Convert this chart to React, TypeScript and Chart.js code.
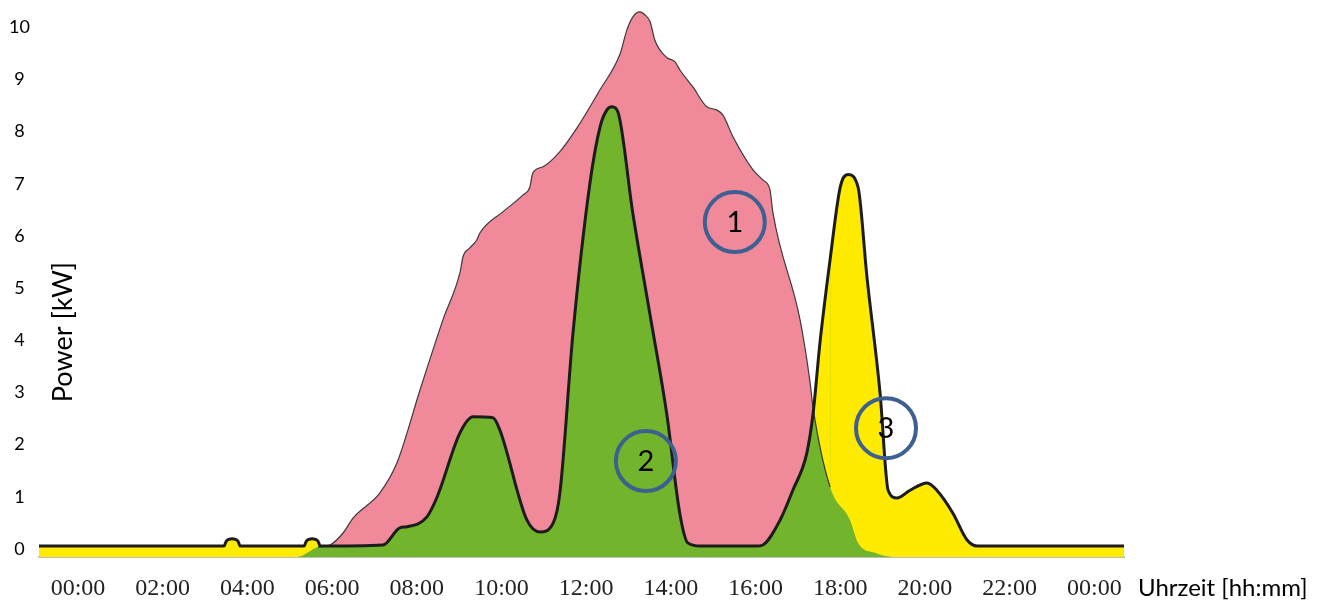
import React, { useEffect, useRef } from "react";
import { Chart, registerables } from "chart.js";

Chart.register(...registerables);

// ---- data (hours of day, kW) ----
const loadHours = [
  -0.92, 3.45, 3.5, 3.57, 3.64, 3.71, 3.78, 3.83, 5.34, 5.39, 5.46, 5.53, 5.6, 5.67, 5.72,
  7.2, 7.6, 7.77, 8.24, 8.48, 9.02, 9.33, 9.8, 9.96, 10.6, 10.91, 11.22, 11.38,
  11.69, 12.09, 12.33, 12.49, 12.61, 12.75, 13.1, 13.5, 13.9, 14.21, 14.4, 14.69,
  16.03, 16.17, 16.58, 16.88, 17.21, 17.36, 17.52, 17.76, 18.0, 18.18, 18.42,
  18.63, 18.94, 19.13, 19.34, 19.65, 20.05, 20.28, 20.66, 20.99, 21.23, 24.7,
];
const loadKW = [
  0.21, 0.21, 0.3, 0.34, 0.35, 0.34, 0.3, 0.21, 0.21, 0.3, 0.34, 0.35, 0.34, 0.3, 0.21,
  0.23, 0.56, 0.58, 0.77, 1.15, 2.38, 2.69, 2.67, 2.44, 0.71, 0.48, 0.65, 1.23,
  4.3, 7.17, 8.25, 8.57, 8.63, 8.53, 6.6, 4.68, 2.76, 0.84, 0.27, 0.21,
  0.21, 0.23, 0.71, 1.28, 1.99, 2.76, 4.1, 5.7, 7.09, 7.33, 7.09,
  5.37, 3.14, 1.28, 1.13, 1.28, 1.42, 1.28, 0.84, 0.33, 0.21, 0.21,
];

const pvHours = [
  -0.92, 5.17, 5.67, 5.95, 6.26, 6.5, 7.13, 7.53, 8.08, 8.62, 9.02, 9.09, 9.26,
  9.42, 9.49, 10.04, 10.51, 10.67, 10.74, 10.98, 11.38, 11.78, 12.33, 12.8, 12.96,
  13.1, 13.27, 13.39, 13.51, 13.62, 13.74, 13.91, 14.1, 14.21, 14.52, 14.85, 15.08,
  15.23, 15.47, 15.94, 16.17, 16.34, 16.41, 17.05, 17.28, 17.36, 17.76, 18.23,
  18.42, 18.82, 19.25, 24.7,
];
const pvKW = [
  0, 0, 0.19, 0.23, 0.46, 0.75, 1.23, 1.8, 3.21, 4.55, 5.45, 5.75, 5.93,
  6.08, 6.21, 6.62, 6.94, 7.09, 7.36, 7.48, 7.77, 8.22, 8.96, 9.64, 10.1,
  10.35, 10.45, 10.39, 10.26, 9.91, 9.72, 9.57, 9.49, 9.34, 9.01, 8.63, 8.57,
  8.47, 8.05, 7.42, 7.23, 7.04, 6.6, 4.55, 3.39, 2.85, 1.34, 0.71,
  0.27, 0.08, 0, 0,
];

const xTickHours = [0, 2, 4, 6, 8, 10, 12, 14, 16, 18, 20, 22, 24];
const xTickLabels = ["00:00", "02:00", "04:00", "06:00", "08:00", "10:00", "12:00", "14:00", "16:00", "18:00", "20:00", "22:00", "00:00"];
const yTicks = [0, 1, 2, 3, 4, 5, 6, 7, 8, 9, 10];

const markerLabels = ["1", "2", "3"];
const markerHours = [15.51, 13.41, 19.08];
const markerKW = [6.42, 1.84, 2.47];

const yAxisTitle = "Power [kW]";
const xAxisTitle = "Uhrzeit [hh:mm]";

// ---- style ----
const PINK = "#F08A9A";
const GREEN = "#72B52C";
const YELLOW = "#FFEB00";
const LINE = "#1C1C1C";
const CIRCLE = "#3E6090";
const SANS = "Lato, 'Liberation Sans', sans-serif";
const SERIF = "'Liberation Serif', 'Times New Roman', serif";

const loadPoints = loadHours.map((x, i) => ({ x, y: loadKW[i] }));
const pvPoints = pvHours.map((x, i) => ({ x, y: pvKW[i] }));

function loadAt(x: number): number {
  for (let i = 0; i < loadHours.length - 1; i++) {
    if (x >= loadHours[i] && x <= loadHours[i + 1]) {
      const t = (x - loadHours[i]) / (loadHours[i + 1] - loadHours[i] || 1);
      return loadKW[i] + t * (loadKW[i + 1] - loadKW[i]);
    }
  }
  return loadKW[loadKW.length - 1];
}

const overlayPlugin = {
  id: "overlay",
  afterDatasetsDraw(chart: any) {
    const { ctx, chartArea, scales } = chart;
    const xs = scales.x;
    const ys = scales.y;
    ctx.save();
    // numbered circles
    markerLabels.forEach((lab, i) => {
      const cx = xs.getPixelForValue(markerHours[i]);
      const cy = ys.getPixelForValue(markerKW[i]);
      ctx.beginPath();
      ctx.arc(cx, cy, 30, 0, Math.PI * 2);
      ctx.lineWidth = 4;
      ctx.strokeStyle = CIRCLE;
      ctx.stroke();
      ctx.fillStyle = "#000";
      ctx.font = `29px ${SANS}`;
      ctx.textAlign = "center";
      ctx.textBaseline = "middle";
      ctx.fillText(lab, cx, cy + 1);
    });
    // y axis title (inside plot)
    ctx.save();
    ctx.translate(chartArea.left + 24, 332);
    ctx.rotate(-Math.PI / 2);
    ctx.font = `27px ${SANS}`;
    ctx.fillStyle = "#000";
    ctx.textAlign = "center";
    ctx.textBaseline = "middle";
    ctx.fillText(yAxisTitle, 0, 0);
    ctx.restore();
    // x axis title
    ctx.font = `24px ${SANS}`;
    ctx.fillStyle = "#000";
    ctx.textAlign = "left";
    ctx.textBaseline = "middle";
    ctx.fillText(xAxisTitle, chartArea.right + 14, 588);
    ctx.restore();
  },
};

export default function App() {
  const ref = useRef<HTMLCanvasElement | null>(null);
  useEffect(() => {
    if (!ref.current) return;
    const chart = new Chart(ref.current, {
      type: "line",
      data: {
        datasets: [
          {
            label: "loadFill",
            data: loadPoints,
            fill: "origin",
            backgroundColor: GREEN,
            borderWidth: 0,
            borderColor: "transparent",
            pointRadius: 0,
            cubicInterpolationMode: "monotone",
            order: 3,
          },
          {
            label: "PV",
            data: pvPoints,
            fill: { target: 0, above: PINK, below: YELLOW },
            borderColor: "#3a3a3a",
            borderWidth: 1.2,
            pointRadius: 0,
            cubicInterpolationMode: "monotone",
            order: 2,
            segment: {
              borderColor: (c: any) => {
                const a = c.p0.parsed;
                const b = c.p1.parsed;
                if (a.y <= loadAt(a.x) + 0.01 && b.y <= loadAt(b.x) + 0.01) return "transparent";
                return "#3a3a3a";
              },
            },
          },
          {
            label: "Load",
            data: loadPoints,
            fill: false,
            borderColor: LINE,
            borderWidth: 3,
            pointRadius: 0,
            cubicInterpolationMode: "monotone",
            order: 1,
          },
        ],
      } as any,
      options: {
        responsive: false,
        animation: false,
        devicePixelRatio: 1,
        parsing: false,
        normalized: true,
        layout: { padding: { top: 4, right: 197, left: 0, bottom: 0 } },
        plugins: {
          legend: { display: false },
          tooltip: { enabled: false },
        },
        scales: {
          x: {
            type: "linear",
            min: -0.92,
            max: 24.7,
            z: 1,
            afterBuildTicks: (s: any) => {
              s.ticks = xTickHours.map((v) => ({ value: v }));
            },
            afterFit: (s: any) => {
              s.height = 44;
              s.paddingLeft = 0;
              s.paddingRight = 0;
            },
            grid: { display: false, drawTicks: false },
            border: { display: true, color: "#BDBDBD", width: 2 },
            ticks: {
              autoSkip: false,
              maxRotation: 0,
              padding: 17,
              color: "#222",
              font: { family: SERIF, size: 24 },
              callback: (v: any) => {
                const i = xTickHours.indexOf(Number(v));
                return i >= 0 ? xTickLabels[i] : "";
              },
            },
          },
          y: {
            type: "linear",
            min: 0,
            max: 10.6,
            afterBuildTicks: (s: any) => {
              s.ticks = yTicks.map((v) => ({ value: v }));
            },
            afterFit: (s: any) => {
              s.width = 39;
              s.paddingTop = 0;
              s.paddingBottom = 0;
            },
            grid: { display: false, drawTicks: false },
            border: { display: false },
            ticks: {
              padding: 9,
              crossAlign: "center",
              labelOffset: -8,
              color: "#000",
              font: { family: SANS, size: 18 },
              callback: (v: any) => String(v),
            },
          },
        },
      } as any,
      plugins: [overlayPlugin],
    });
    return () => chart.destroy();
  }, []);
  return (
    <div style={{ position: "fixed", left: 0, top: 0, width: 1321, height: 601, background: "#fff" }}>
      <canvas ref={ref} width={1321} height={601} style={{ display: "block", width: 1321, height: 601 }} />
    </div>
  );
}
